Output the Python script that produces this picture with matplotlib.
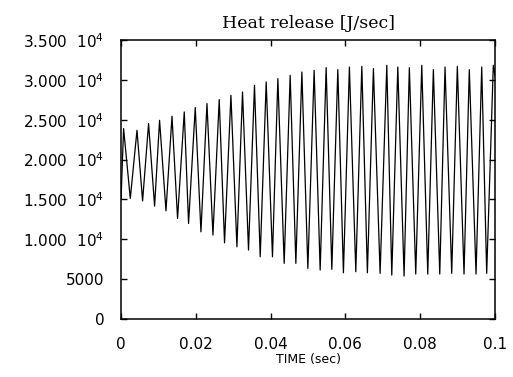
import matplotlib
matplotlib.use("Agg")
import matplotlib.pyplot as plt

# extremes of the heat release trace (time in s, value in J/s)
peak_t = [0.00069, 0.00427, 0.00737, 0.01031, 0.01363, 0.01691, 0.01985, 0.02298,
          0.02626, 0.02939, 0.03249, 0.03569, 0.03882, 0.04194, 0.04523, 0.04836,
          0.05164, 0.05485, 0.05797, 0.06107, 0.06439, 0.06749, 0.07107, 0.07401,
          0.07710, 0.08042, 0.08352, 0.08664, 0.08993, 0.09313, 0.09645, 0.09955]
peak_v = [23890, 23680, 24520, 24930, 25440, 25980, 26530, 27030,
          27530, 28070, 28480, 29320, 29740, 30160, 30570, 30990,
          31200, 31540, 31290, 31610, 31700, 31410, 31830, 31610,
          31540, 31830, 31290, 31610, 31700, 31290, 31610, 31830]
trough_t = [0.0, 0.00248, 0.00577, 0.00898, 0.01202, 0.01512, 0.01806, 0.02137,
            0.02458, 0.02768, 0.03099, 0.03409, 0.03722, 0.04050, 0.04363, 0.04675,
            0.04996, 0.05325, 0.05637, 0.05947, 0.06278, 0.06588, 0.06928, 0.07240,
            0.07569, 0.07881, 0.08202, 0.08523, 0.08843, 0.09172, 0.09493, 0.09778]
trough_v = [15000, 15120, 14820, 14160, 13570, 12620, 11990, 10940,
            10530, 9560, 9060, 8650, 7810, 7810, 6980, 6980,
            6350, 6140, 6230, 5800, 5930, 5800, 5730, 5510,
            5390, 5640, 5640, 5640, 5730, 5640, 5640, 5730]
end_t = 0.1
end_v = 30500

y_ticks = [0, 5000, 10000, 15000, 20000, 25000, 30000, 35000]
y_labels = ["0", "5000", r"1.000  10$^{4}$", r"1.500  10$^{4}$", r"2.000  10$^{4}$",
            r"2.500  10$^{4}$", r"3.000  10$^{4}$", r"3.500  10$^{4}$"]
x_ticks = [0, 0.02, 0.04, 0.06, 0.08, 0.1]
x_labels = ["0", "0.02", "0.04", "0.06", "0.08", "0.1"]

plt.rcParams["mathtext.fontset"] = "dejavusans"

# trough, peak, trough, peak ... in time order
t = []
v = []
for i in range(len(trough_t)):
    t.append(trough_t[i])
    v.append(trough_v[i])
    t.append(peak_t[i])
    v.append(peak_v[i])
t.append(end_t)
v.append(end_v)

fig = plt.figure(figsize=(5.13, 3.77), dpi=100)
ax = fig.add_axes([0.2359, 0.1538, 0.729, 0.74])

ax.plot(t, v, color="black", linewidth=0.9)

ax.set_xlim(0, 0.1)
ax.set_ylim(0, 35000)
ax.set_xticks(x_ticks)
ax.set_xticklabels(x_labels, fontname="DejaVu Sans", fontsize=11)
ax.set_yticks(y_ticks)
ax.set_yticklabels(y_labels, fontname="DejaVu Sans", fontsize=11)
ax.tick_params(direction="in", length=4, width=1, top=True, right=True)
ax.tick_params(axis="x", pad=13)
ax.tick_params(axis="y", pad=12)
for s in ax.spines.values():
    s.set_linewidth(1.1)

ax.set_title("Heat release [J/sec]", fontname="DejaVu Serif", fontsize=12.5, pad=9)
ax.set_xlabel("TIME (sec)", fontname="DejaVu Sans", fontsize=9, labelpad=1)

fig.savefig("out.png", dpi=100)
